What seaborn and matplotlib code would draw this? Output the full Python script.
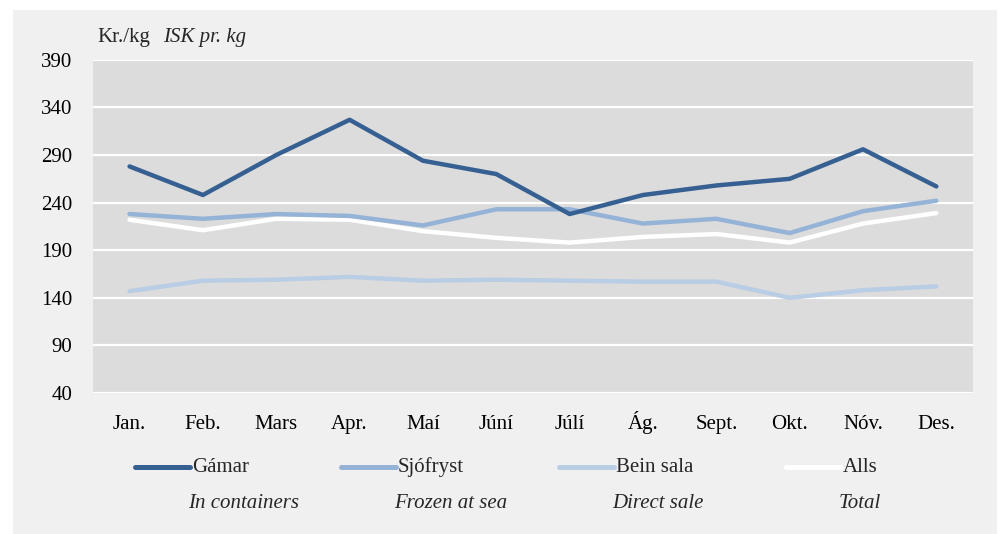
import pandas as pd
import numpy as np
import matplotlib.pyplot as plt
import seaborn as sns
from matplotlib.lines import Line2D
from matplotlib.patches import Rectangle

# gögn / data
months = ['Jan.', 'Feb.', 'Mars', 'Apr.', 'Maí', 'Júní', 'Júlí', 'Ág.', 'Sept.', 'Okt.', 'Nóv.', 'Des.']
gamar = [278, 248, 290, 327, 284, 270, 228, 248, 258, 265, 296, 257]
sjofryst = [228, 223, 228, 226, 216, 233, 233, 218, 223, 208, 231, 242]
bein_sala = [147, 158, 159, 162, 158, 159, 158, 157, 157, 140, 148, 152]
alls = [222, 211, 223, 222, 210, 203, 198, 204, 207, 198, 218, 229]

series = ['Gámar', 'Sjófryst', 'Bein sala', 'Alls']
series_en = ['In containers', 'Frozen at sea', 'Direct sale', 'Total']
yticks = [40, 90, 140, 190, 240, 290, 340, 390]

colors = {'Gámar': '#376092', 'Sjófryst': '#95B3D7', 'Bein sala': '#B9CDE5', 'Alls': '#FFFFFF'}

df = pd.DataFrame({'month': months * 4,
                   'series': np.repeat(series, len(months)),
                   'value': gamar + sjofryst + bein_sala + alls})

sns.set_theme(style='white')
plt.rcParams['font.family'] = ['Liberation Serif', 'DejaVu Serif']
fs = 15

fig = plt.figure(figsize=(9.99, 5.34), dpi=100, facecolor='white')
# grár rammi
fig.add_artist(Rectangle((13 / 999, -0.05), 984 / 999, 524 / 534 + 0.05, transform=fig.transFigure,
                         facecolor='#F0F0F0', edgecolor='none', zorder=0))
ax = fig.add_axes([0.093, 0.264, 0.881, 0.624])
ax.set_facecolor('#DCDCDC')

# teikna Alls neðst, svo hinar ofan á
for name, z in zip(['Alls', 'Bein sala', 'Sjófryst', 'Gámar'], [2, 3, 4, 5]):
    sns.lineplot(data=df[df['series'] == name], x='month', y='value', color=colors[name],
                 linewidth=3.2, sort=False, ax=ax, zorder=z, solid_capstyle='round', legend=False)

ax.set_xlim(-0.5, 11.5)
ax.set_ylim(40, 390)
ax.set_yticks(yticks)
ax.yaxis.grid(True, color='white', linewidth=1.6, zorder=1)
ax.set_axisbelow(True)
for s in ax.spines.values():
    s.set_visible(False)
ax.set_xlabel('')
ax.set_ylabel('')
ax.tick_params(axis='both', length=0, labelsize=fs, colors='black')
ax.tick_params(axis='y', pad=15)
ax.tick_params(axis='x', pad=26)
for lbl in ax.get_xticklabels():
    lbl.set_verticalalignment('baseline')

# eining
fig.text(0.097, 0.912, 'Kr./kg', fontsize=fs, ha='left', va='bottom')
fig.text(0.163, 0.912, 'ISK pr. kg', fontsize=fs, style='italic', ha='left', va='bottom')

# skýringar
leg_x = [135, 341, 559, 786]
for x0, name, en in zip(leg_x, series, series_en):
    fig.add_artist(Line2D([x0 / 999, (x0 + 55) / 999], [1 - 467 / 534] * 2,
                          color=colors[name], linewidth=3.6, solid_capstyle='round'))
    fig.text((x0 + 57) / 999, 1 - 467 / 534, name, fontsize=fs, ha='left', va='center')
    fig.text((x0 + 53) / 999, 1 - 503 / 534, en, fontsize=fs, style='italic', ha='left', va='center')

plt.savefig('out.png', dpi=100, facecolor=fig.get_facecolor())
